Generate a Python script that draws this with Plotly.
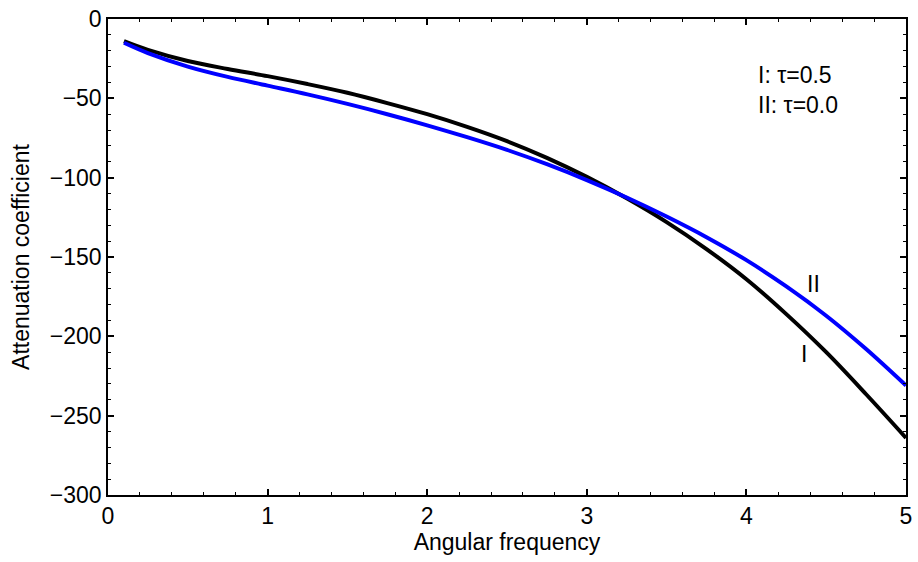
import plotly.graph_objects as go

freq = [0.1, 0.25, 0.5, 0.75, 1.0, 1.25, 1.5, 1.75, 2.0, 2.25, 2.5, 2.75, 3.0, 3.25, 3.5, 3.75, 4.0, 4.25, 4.5, 4.75, 5.0]
atten_I = [-14, -19.5, -26.5, -31.5, -36, -41, -46.5, -53, -60, -68, -77, -87.5, -99.5, -113, -128, -145, -164, -186, -210, -236.5, -264]
atten_II = [-15, -21.5, -30, -36.5, -42, -47.5, -53.5, -60, -67, -74.5, -82.5, -91.5, -101.5, -112.5, -124.5, -137.5, -152, -168.5, -187, -208, -231]

font = "Liberation Sans, Arial, sans-serif"

fig = go.Figure()
fig.add_trace(go.Scatter(x=freq, y=atten_I, mode="lines", line=dict(color="black", width=4, shape="spline"), showlegend=False))
fig.add_trace(go.Scatter(x=freq, y=atten_II, mode="lines", line=dict(color="#0000ff", width=4, shape="spline"), showlegend=False))

axis_common = dict(
    showgrid=False, zeroline=False, showline=True, linecolor="black", linewidth=1.5,
    mirror="allticks", ticks="inside", ticklen=6, tickwidth=1.5, tickcolor="black",
    tickfont=dict(family=font, size=23, color="black"),
)
fig.update_xaxes(range=[0, 5], dtick=1, tick0=0,
                 minor=dict(ticks="inside", dtick=0.2, ticklen=3, tickwidth=1, tickcolor="black"),
                 title=dict(text="Angular frequency", font=dict(family=font, size=23, color="black"), standoff=4),
                 **axis_common)
fig.update_yaxes(range=[-300, 0], dtick=50, tick0=0,
                 minor=dict(ticks="inside", dtick=10, ticklen=3, tickwidth=1, tickcolor="black"),
                 title=dict(text="Attenuation coefficient", font=dict(family=font, size=23, color="black"), standoff=14),
                 **axis_common)

ann_font = dict(family=font, size=23, color="black")
fig.add_annotation(x=4.06, y=-35, text="I: τ=0.5", showarrow=False, xanchor="left", yanchor="middle", font=ann_font)
fig.add_annotation(x=4.06, y=-54, text="II: τ=0.0", showarrow=False, xanchor="left", yanchor="middle", font=ann_font)
fig.add_annotation(x=4.36, y=-211, text="I", showarrow=False, font=ann_font)
fig.add_annotation(x=4.42, y=-167, text="II", showarrow=False, font=ann_font)

fig.update_layout(
    width=918, height=562,
    margin=dict(l=108, r=6, t=16, b=67),
    plot_bgcolor="white", paper_bgcolor="white",
    font=dict(family=font, color="black"),
)
fig.write_html("out.html")
